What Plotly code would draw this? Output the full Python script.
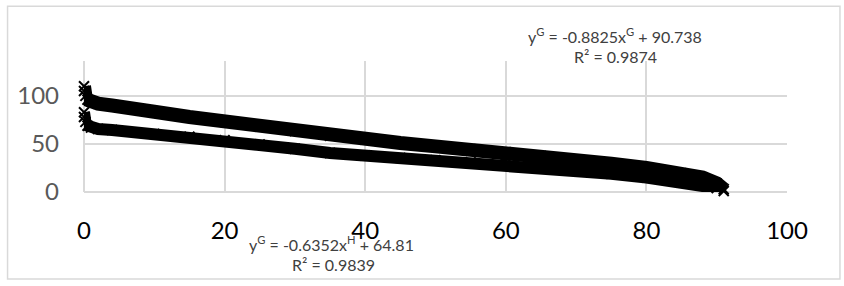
import plotly.graph_objects as go

# Series G (upper)
g_x = [0, 0, 0.2, 0.5, 1, 2, 4, 5, 10, 15, 20, 25, 30, 35, 40, 45, 50, 55, 60, 65, 70, 75, 80, 85, 88, 90, 91]
g_y = [110, 105, 100, 96, 94, 92, 90, 88.5, 83.5, 78, 73, 68, 63.5, 58.5, 54.5, 51, 47.5, 44.5, 41.5, 37.5, 33.5, 29.5, 25, 19.5, 15, 9, 3]

# Series H (lower)
h_x = [0, 0, 0.2, 0.5, 1, 2, 4, 10, 15, 20, 25, 30, 35, 40, 45, 50, 55, 60, 65, 70, 75, 80, 85, 88, 90, 91]
h_y = [83, 78, 73, 69, 67, 65.5, 64.5, 60.5, 57.5, 54, 49.5, 45, 40.5, 38, 35.5, 33, 31, 29, 26, 22.5, 19, 15, 11, 8, 4, 1]

x_ticks = [0, 20, 40, 60, 80, 100]
y_ticks = [0, 50, 100]

eq_g = "y<sup>G</sup> = -0.8825x<sup>G</sup> + 90.738"
r2_g = "R² = 0.9874"
eq_h = "y<sup>G</sup> = -0.6352x<sup>H</sup> + 64.81"
r2_h = "R² = 0.9839"

W, H = 844, 286
L, R, T, B = 83.5, 57, 61, 93.7
pw, ph = W - L - R, H - T - B


def px(xp):
    return (xp - L) / pw


def py(yp):
    return (H - B - yp) / ph


fig = go.Figure()
for xs, ys, lw in [(g_x, g_y, 14), (h_x, h_y, 12)]:
    fig.add_trace(go.Scatter(
        x=xs, y=ys, mode="lines+markers",
        line=dict(color="black", width=lw),
        marker=dict(symbol="x-thin", size=10, line=dict(color="black", width=2)),
        cliponaxis=False, showlegend=False, hoverinfo="skip"))

fig.update_layout(
    width=W, height=H,
    margin=dict(l=L, r=R, t=T, b=B, pad=0, autoexpand=False),
    paper_bgcolor="white", plot_bgcolor="white",
    font=dict(family="Lato, Open Sans, sans-serif"),
    xaxis=dict(range=[0, 100], tickvals=x_ticks, showgrid=True, gridcolor="#d9d9d9", gridwidth=1.5,
               zeroline=True, zerolinecolor="#d9d9d9", zerolinewidth=1.5, showline=False,
               automargin=False,
               tickfont=dict(size=24, color="#000000"), ticks="", ticklabelstandoff=22),
    yaxis=dict(range=[0, 136.3], tickvals=y_ticks, showgrid=True, gridcolor="#d9d9d9", gridwidth=1.5,
               zeroline=True, zerolinecolor="#d9d9d9", zerolinewidth=1.5, showline=False,
               automargin=False,
               tickfont=dict(size=24, color="#595959"), ticks="", ticklabelstandoff=24),
    shapes=[dict(type="rect", xref="paper", yref="paper",
                 x0=px(7), x1=px(840), y0=py(279.5), y1=py(6),
                 line=dict(color="#d9d9d9", width=1.5), layer="below")],
)

ann_font = dict(size=16, color="#404040", family="Lato, Open Sans, sans-serif")
for text, xp, yp in [(eq_g, 615, 35), (r2_g, 615, 56), (eq_h, 331, 244), (r2_h, 333, 265)]:
    fig.add_annotation(text=text, xref="paper", yref="paper", x=px(xp), y=py(yp),
                       xanchor="center", yanchor="middle", showarrow=False, font=ann_font)

fig.write_html("out.html", config={"displayModeBar": False},
               post_script="document.body.style.margin='0';")
